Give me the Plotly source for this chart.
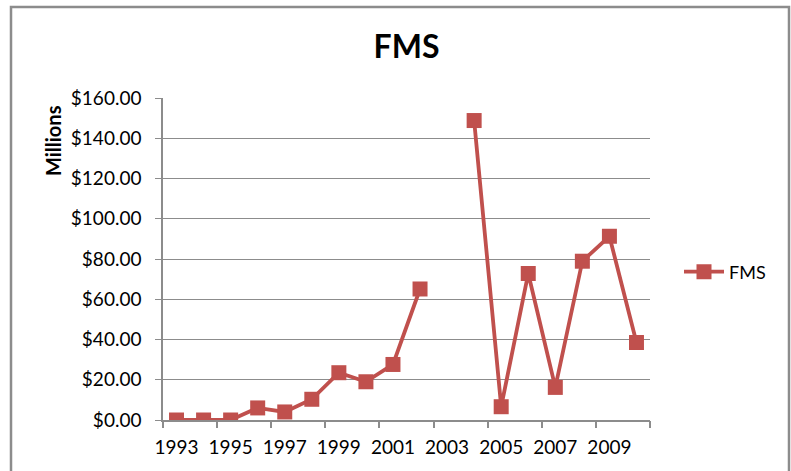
import plotly.graph_objects as go

years = list(range(1993, 2011))
fms_values = [0, 0, 0, 6, 4, 10.3, 23.5, 19, 27.6, 65.1, None, 148.8, 6.6, 72.8, 16.2, 78.9, 91.3, 38.5]
label_years = list(range(1993, 2011, 2))
boundary_ticks = [y - 0.5 for y in range(1993, 2012, 2)]
y_ticks = list(range(0, 161, 20))

W, H = 791, 471
L, R, T, B = 163, 650, 98, 420

def px_x(x):
    return (x - L) / (R - L)

def px_y(y):
    return (B - y) / (B - T)

RED = "#C0504D"
GRAY = "#8C8C8C"
FONT = "Lato"

fig = go.Figure()
fig.add_trace(go.Scatter(
    x=years, y=fms_values, mode="lines+markers", name="FMS",
    line=dict(color=RED, width=3.8),
    marker=dict(symbol="square", size=15, color=RED),
    connectgaps=False,
))
# invisible trace to activate tick axis
fig.add_trace(go.Scatter(x=[years[0]], y=[0], xaxis="x2", mode="markers",
                         marker=dict(opacity=0), showlegend=False, hoverinfo="skip"))

fig.update_layout(
    width=W, height=H,
    margin=dict(l=L, r=W - R, t=T, b=H - B),
    paper_bgcolor="white", plot_bgcolor="white",
    font=dict(family=FONT, color="#000000"),
    title=dict(text="<b>FMS</b>", x=0.5, xref="paper", xanchor="center",
               y=1 - 47 / H, yanchor="middle", font=dict(size=32, family=FONT)),
    xaxis=dict(range=[1992.5, 2010.5], tickvals=label_years,
               ticktext=[str(y) for y in label_years],
               ticks="outside", ticklen=7, tickcolor="rgba(0,0,0,0)",
               showgrid=False, zeroline=False,
               showline=True, linecolor=GRAY, linewidth=1.5,
               tickfont=dict(size=19, family=FONT), ticklabelstandoff=2),
    xaxis2=dict(range=[1992.5, 2010.5], overlaying="x", side="bottom",
                tickvals=boundary_ticks, showticklabels=False,
                ticks="outside", ticklen=7, tickcolor=GRAY, tickwidth=1.5,
                showgrid=False, zeroline=False, showline=False),
    yaxis=dict(range=[0, 160], tickvals=y_ticks, tickformat="$,.2f",
               ticks="outside", ticklen=6, tickcolor=GRAY,
               showgrid=True, gridcolor=GRAY, gridwidth=1,
               zeroline=False, showline=True, linecolor=GRAY, linewidth=1.5,
               tickfont=dict(size=19, family=FONT), ticklabelstandoff=10),
    legend=dict(x=px_x(679), y=px_y(272), xanchor="left", yanchor="middle",
                font=dict(size=18, family=FONT), bgcolor="rgba(0,0,0,0)",
                itemwidth=40),
    showlegend=True,
)

fig.add_annotation(text="<b>Millions</b>", textangle=-90, xref="paper", yref="paper",
                   x=px_x(53), y=px_y(141), xanchor="center", yanchor="middle",
                   showarrow=False, font=dict(size=20, family=FONT))

# outer chart border
fig.add_shape(type="rect", xref="paper", yref="paper",
              x0=px_x(11), x1=px_x(789), y0=px_y(480), y1=px_y(7),
              line=dict(color=GRAY, width=2.5), fillcolor="rgba(0,0,0,0)", layer="below")

fig.write_html("out.html", config={"displayModeBar": False},
               post_script="document.body.style.margin='0';document.body.style.padding='0';")
